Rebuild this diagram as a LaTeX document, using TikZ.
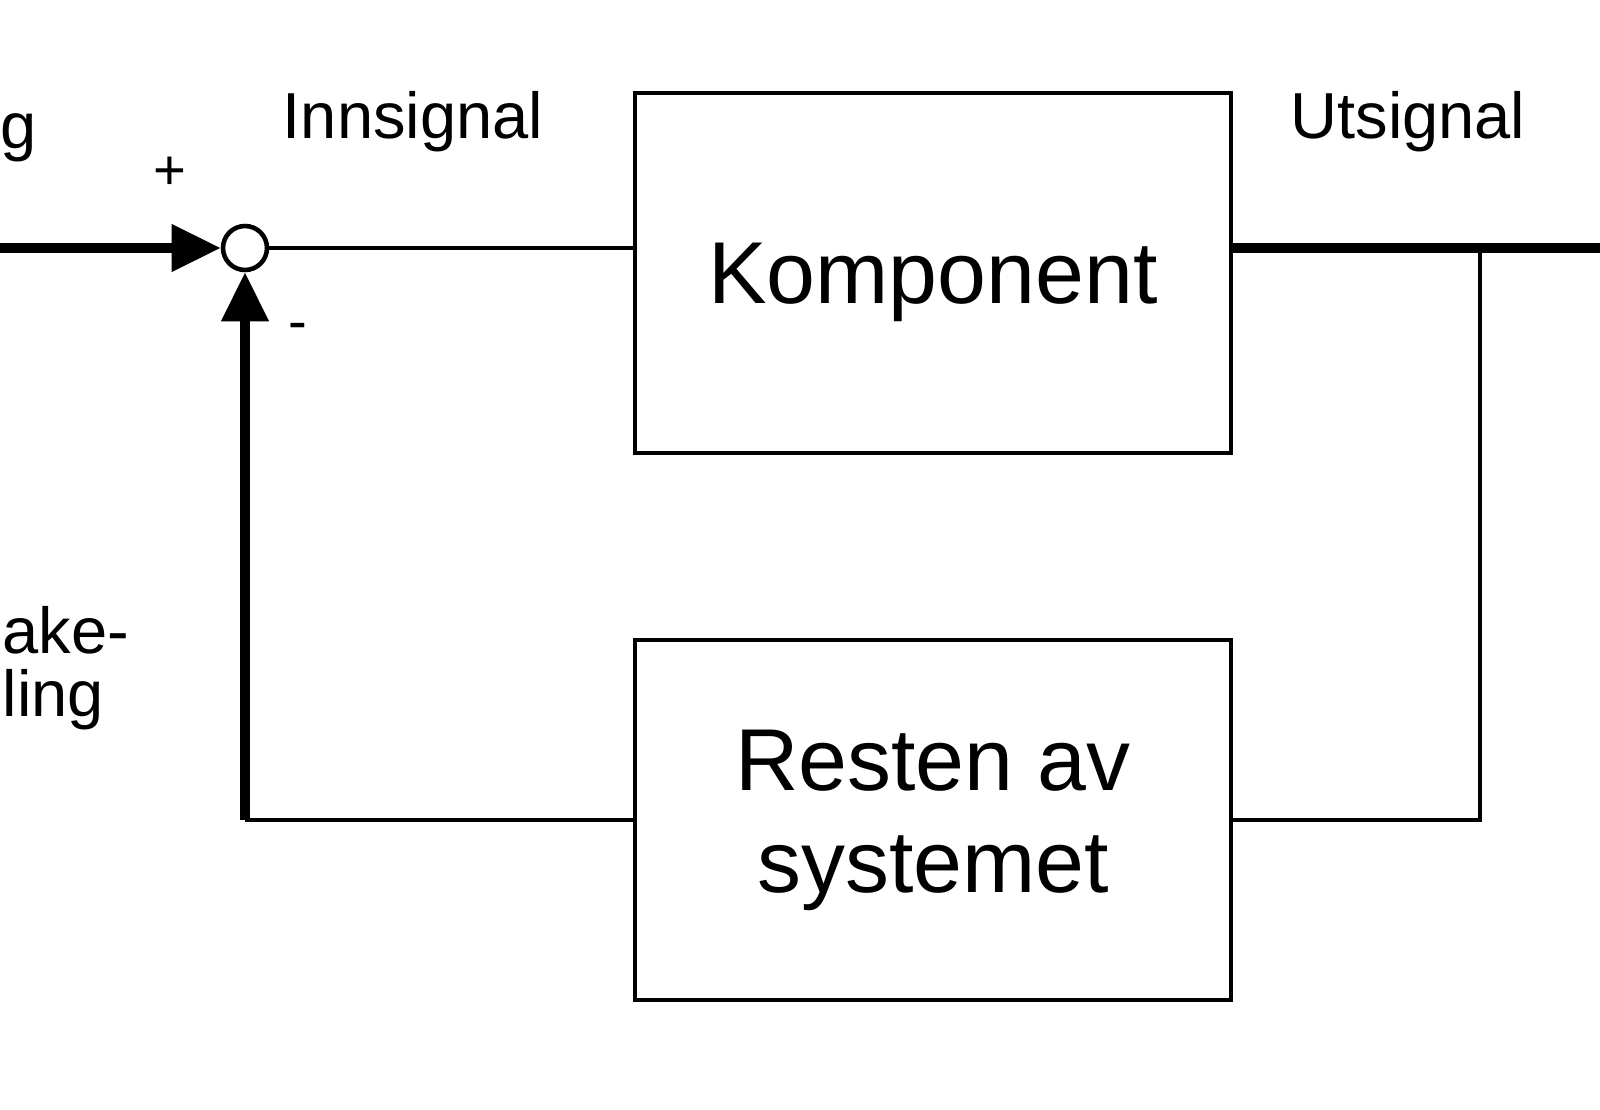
\documentclass[tikz,border=0pt]{standalone}
\usepackage{fontspec}
\setmainfont{Liberation Sans}
\usetikzlibrary{arrows.meta,positioning,calc}

\tikzset{
  blokk/.style={draw,line width=1.4pt,minimum width=5.96cm,minimum height=3.6cm,
    align=center,font=\fontsize{25}{29}\selectfont,inner sep=0pt},
  sumpunkt/.style={draw,circle,line width=1.3pt,minimum size=0.44cm,inner sep=0pt},
  tynn/.style={line width=1.2pt},
  tykk/.style={line width=2.6pt},
  pil/.style={-{Triangle[length=14pt,width=13pt]}},
  merke/.style={font=\fontsize{18.5}{22}\selectfont,inner sep=0pt},
  tegn/.style={font=\fontsize{16}{18}\selectfont,inner sep=0pt}
}

\begin{document}
\begin{tikzpicture}
	\useasboundingbox (0,0) rectangle (16,-11.09);
	% blocks
	\node[blokk,text depth=0pt] (komp) at (9.33,-2.73) {Komponent};
	\node[blokk] (rest) at (9.33,-8.20) {Resten av\\systemet};
	% summing point
	\node[sumpunkt] (sum) at (2.45,-2.48) {};
	% free ends and corners
	\coordinate (inn) at (0,-2.48);
	\coordinate (ut) at (16,-2.48);
	\coordinate (gren) at (14.80,-2.48);
	\coordinate (tilb) at (2.45,-8.20);
	% signal lines
	\draw[tykk,pil] (inn) -- (sum.west);
	\draw[tynn] (sum.east) -- (sum.east -| komp.west);
	\draw[tykk] (ut -| komp.east) -- (ut);
	\draw[tynn] (gren) |- (rest.east);
	\draw[tynn] (rest.west) -- (tilb);
	\draw[tykk,pil] (tilb) -- (sum.south);
	% labels
	\node[tegn] (pluss) at (1.70,-1.73) {+};
	\node[tegn] (minus) at (2.98,-3.32) {-};
	\node[merke] (innsig) at (4.13,-1.22) {Innsignal};
	\node[merke] (utsig) at (14.08,-1.22) {Utsignal};
	\node[merke,anchor=west] (g) at (0,-1.38) {g};
	\node[merke,anchor=west] (ake) at (0.02,-6.30) {ake-};
	\node[merke,anchor=west] (ling) at (0.02,-7.00) {ling};
\end{tikzpicture}
\end{document}
